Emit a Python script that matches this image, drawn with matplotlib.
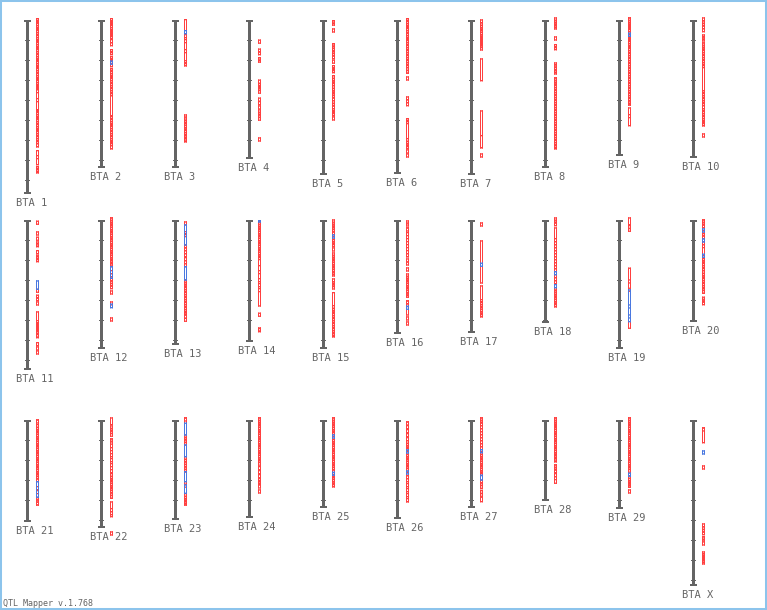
import matplotlib
matplotlib.use("Agg")
import numpy as np
import matplotlib.pyplot as plt
from matplotlib.patches import Rectangle

# Chromosomes and their map lengths (cM)
chrom_names = ["1", "2", "3", "4", "5", "6", "7", "8", "9", "10",
               "11", "12", "13", "14", "15", "16", "17", "18", "19", "20",
               "21", "22", "23", "24", "25", "26", "27", "28", "29", "X"]
chrom_len = [174, 148, 148, 139, 155, 154, 155, 148, 136, 138,
             150, 129, 125, 122, 129, 114, 113, 103, 129, 102,
             102, 108, 100, 98, 88, 99, 88, 81, 89, 166]

# Single-position QTL (drawn as small boxes), red trait class
red_points = [
    [-2, 0, 2, 5, 7, 9, 12, 14, 17, 19, 21, 24, 26, 28, 31, 33, 36, 38, 40, 43, 45, 47, 50, 52, 55, 57, 59,
     62, 64, 66, 69, 78, 89, 91, 94, 96, 98, 101, 103, 106, 108, 110, 113, 115, 118, 120, 123, 135, 146, 148, 149],
    [-2, 0, 2, 4, 7, 9, 11, 13, 15, 19, 22, 29, 31, 36, 38, 40, 43, 48, 50, 53, 55, 57, 60, 62, 65, 67, 70, 72,
     96, 98, 101, 103, 105, 108, 110, 113, 115, 118, 120, 122, 125],
    [14, 19, 29, 40, 42, 94.3, 96.3, 100, 102, 104.5, 107, 109, 112, 114, 116.5, 118],
    [19.5, 28.5, 31, 37, 38.5, 59.5, 63, 65, 67, 69.5, 77.5, 81, 85.3, 89.3, 91.5, 94, 96.5, 117.3],
    [0, 1.5, 8.3, 23, 24.5, 28, 30, 32.5, 35, 39.5, 45, 47, 49, 55, 57.5, 60, 62, 65, 67.5, 70, 72, 74.5, 77,
     80, 82.5, 85, 88, 90, 92, 96.3],
    [-2, 0, 3, 5, 7, 10, 12, 15, 17, 19, 22, 24, 27, 29, 32, 34, 37, 39, 42, 44, 47, 49.5, 56.3, 76.3, 79, 82,
     98, 100, 118, 120.5, 123, 125, 129.3, 133.3],
    [-0.7, 2, 4.5, 7, 9, 11.5, 14, 16, 18, 20, 22, 24, 26.3, 133.3],
    [-2.7, -0.5, 2, 4, 5.3, 16.3, 24, 26, 42.3, 44, 46.5, 49, 50.3, 57.3, 59.5, 62, 64, 67, 69, 72, 74, 77, 79,
     82, 84, 87, 89, 92, 94, 97, 99, 102, 104, 107, 109, 112, 114, 117, 119, 122, 124, 125],
    [-2.7, -0.5, 2, 4, 6, 8, 11, 14, 16, 18, 20, 23, 25, 27, 30, 32, 35, 37, 40, 42, 45, 47, 50, 52, 55, 57, 60,
     62, 65, 67, 70, 72, 75, 77, 80, 81.3, 94],
    [-2.7, 0, 2.5, 5, 8, 14.3, 16, 17.3, 22.3, 24.5, 27, 29, 32, 34, 37, 39, 42, 44, 70, 72, 75, 77, 80, 82,
     85, 88, 90, 93, 95, 98, 100, 102, 113.3],
    [0.6, 11.3, 16.6, 21.3, 23, 30, 34.6, 36, 38, 68.6, 74.6, 77, 81.3, 100, 102, 104, 106, 108, 110, 113.3,
     114, 122, 126.3, 130.3],
    [-2.7, -0.5, 2, 4, 6.5, 9, 11, 13.5, 16, 18, 20.5, 23, 25, 27.5, 30, 32, 34.5, 37, 39, 41.5, 43, 50, 53,
     57.6, 60, 62.6, 65, 70.3, 81.3, 97.3],
    [1.3, 11, 13, 24.3, 27, 30, 33, 37, 40, 43, 59.3, 61.5, 64, 66, 69, 71, 74, 76, 79, 81, 84, 86, 89, 91,
     94.6, 97.6],
    [1.3, 3.5, 6, 8, 10.5, 13, 15, 17.5, 20, 22, 24.5, 27, 29, 31.5, 34, 36, 50, 58, 63, 68, 92.6, 107.3, 108],
    [-0.7, 1.5, 4, 6, 8.5, 11, 16, 18.5, 21, 23, 27.3, 32.3, 34.5, 37, 39, 41.5, 44, 46, 48.5, 51, 52.3, 58.3,
     61, 63, 65.3, 85, 87.5, 90, 92, 95, 97, 100, 102, 105, 107, 110, 112, 113],
    [0.3, 2.3, 7.3, 12, 18, 24, 30, 33, 38.3, 41.3, 47.3, 53.3, 55.5, 58, 60, 62.5, 65, 67, 69.5, 72, 73.6,
     80.3, 83, 96.3, 101.3],
    [2.3, 79, 81, 84, 86, 88.5, 91, 93],
    [-2.7, -0.5, 2, 18, 21, 24, 27, 30, 33, 36, 39, 42, 45, 48, 54, 57, 60, 67, 69.3, 71.5, 74, 76, 78.5, 81, 83],
    [5, 7.6, 59.3, 67.6],
    [-0.7, 1.5, 4, 10, 12.5, 15, 21, 24, 35, 37.5, 40, 42, 45, 47, 50, 52.5, 55, 57, 60, 62, 65, 67, 69.6,
     76.6, 78.6, 81],
    [-0.7, 4, 6.5, 9, 11, 13.5, 16, 18, 20.5, 23, 25, 27.5, 30, 32, 34.5, 37, 39, 41.5, 44, 46, 48.5, 51, 53,
     55.5, 58, 66, 70, 76.6, 78.6, 81.3],
    [5.3, 7.6, 10, 12.6, 18.3, 20.5, 27, 33, 38, 43, 49, 53, 55.5, 58, 60, 62.5, 65, 67, 69.5, 72, 74.6,
     88, 91, 111.3],
    [-2.7, 14.3, 16.5, 19, 21.5, 36, 38.5, 41, 43.5, 46, 48.5, 61, 63.5, 73, 75.5, 78, 80, 81.3],
    [-2.7, -0.5, 2, 4, 6.5, 9, 11, 13.5, 16, 18, 20.5, 23, 25, 27.5, 30, 32, 34.5, 37, 39, 41.5, 46, 50, 54,
     58, 60, 61, 64.3, 69.3],
    [-2.7, -0.5, 2, 4, 6.5, 9, 11, 16, 18.5, 21, 23, 25.5, 28, 30, 32.5, 35, 37, 39.5, 42, 44, 46.5, 49, 54,
     56, 58.5, 61, 63],
    [1.3, 5, 9, 13, 17, 20, 22.5, 25, 27, 31, 33.5, 36, 38, 40.5, 43, 45, 47.5, 52, 55, 58, 63, 68, 73, 78],
    [-2.7, -0.5, 2, 5, 8, 11, 14, 17, 20, 23, 26, 31, 33.5, 36, 38, 40.5, 43, 45, 47.5, 50, 52, 59.5, 62,
     64.6, 70, 72.6],
    [-2.7, -0.5, 2, 4, 6, 8.5, 11, 13, 15.5, 18, 20, 22.5, 25, 27, 29.5, 32, 34, 36.5, 38, 44.3, 46.5, 49,
     53, 56],
    [-2.7, -0.5, 2, 4, 6.5, 9, 11, 13.5, 16, 18, 20.5, 23, 25, 27.5, 30, 32, 34.5, 37, 39, 41.5, 44, 46, 48.5,
     55, 57.5, 60, 62, 63.6, 69.3],
    [7.3, 45.3, 103.3, 106, 108.6, 111, 116, 117.3, 121.3, 131.3, 133, 135, 137, 139, 140.3],
]

# QTL with a confidence interval (start, end), red trait class
red_spans = [
    [(-2, 126), (68, 90), (130, 144), (146, 152)],
    [(48, 128), (75, 95)],
    [(-1, 45), (100, 121)],
    [],
    [(55, 95)],
    [(-2, 52.5), (98, 128)],
    [(38.3, 60), (90.3, 127), (115, 127)],
    [(57.3, 128)],
    [(-2.7, 84.3), (87.3, 105)],
    [(22.3, 105), (44, 70)],
    [(91.3, 112.6)],
    [(-2.7, 46)],
    [(24.3, 46), (59.3, 93.3)],
    [(1.3, 85.3), (36, 45)],
    [(72, 116)],
    [(7.3, 36), (80.3, 94.3)],
    [(20.3, 62.3), (65.3, 96)],
    [(7.3, 86)],
    [(-2.7, 4), (47.6, 107.6)],
    [(-0.7, 72.6)],
    [(-0.7, 84.3)],
    [(-2.7, 4), (18.3, 77.6), (81.3, 96)],
    [(-2.7, 84.3)],
    [(-2.7, 62.6)],
    [(-2.7, 66)],
    [(1.3, 81)],
    [(-2.7, 68), (76.6, 81)],
    [(-2.7, 41), (44.3, 62.6)],
    [(-2.7, 66.6)],
    [(7.3, 22)],
]

# Blue trait class
blue_points = [
    [], [40.5], [10], [], [], [], [], [], [12.6], [],
    [], [], [], [], [14.3], [85.6], [42.6], [51, 64], [84.3, 94.3], [8.3, 18.3, 33.6],
    [], [], [], [], [14.3, 51.6], [29.3, 50.3], [29], [], [52.6], [30.3],
]
blue_spans = [
    [], [], [], [], [], [], [], [], [], [],
    [(60.3, 68.6)], [(46, 57.6), (83.5, 87)], [(4.3, 24.3), (46, 59.3)], [(0, 1.3)], [], [], [], [],
    [(69.3, 101)], [],
    [(61, 76.6)], [], [(2.6, 14.3), (24.3, 36), (51, 61), (64.3, 72.6)], [], [], [], [(54.6, 59.3)], [], [], [],
]

W, H = 767, 610
first_x = 27.5
col_step = 74
row_top = [20, 220, 420]
per_row = 10
box_h = 3
edge = 1.3

grey = "#646464"
red = "#ff4040"
blue = "#4a78e0"
border = "#8cc4ec"


def block(ax, x0, x1, y0, y1, color):
    # plain filled block; snapping off so edges stay on the pixel grid
    ax.add_patch(Rectangle((x0, y0), x1 - x0, y1 - y0, fc=color, lw=0, snap=False))


def add_box(ax, a, b, color):
    # hollow 3 px wide box from a to b
    block(ax, 8.5, 11.5, a, a + edge, color)
    block(ax, 8.5, 11.5, b, b + edge, color)
    block(ax, 8.5, 9.5, a, b + edge, color)
    block(ax, 10.5, 11.5, a, b + edge, color)


fig = plt.figure(figsize=(W / 100, H / 100), dpi=100)

for i, name in enumerate(chrom_names):
    r, c = divmod(i, per_row)
    bx = first_x + c * col_step
    top = row_top[r]
    ax = fig.add_axes([(bx - 15) / W, 1 - (top + 190) / H, 60 / W, 200 / H])
    ax.set_xlim(-15, 45)
    ax.set_ylim(190, -10)
    ax.axis("off")

    L = chrom_len[i]
    block(ax, -1.5, 1.5, 0, L, grey)
    for t in np.arange(20, L - 2, 20):
        block(ax, -2.5, 2.5, t, t + 1, grey)
    block(ax, -3.5, 3.5, 0, 2, grey)
    block(ax, -3.5, 3.5, L - 2, L, grey)

    for a, b in red_spans[i]:
        add_box(ax, a, b, red)
    for p in red_points[i]:
        add_box(ax, p, p + box_h, red)
    for a, b in blue_spans[i]:
        add_box(ax, a, b, blue)
    for p in blue_points[i]:
        add_box(ax, p, p + box_h, blue)

    ax.text(-11.5, L + 9, "BTA " + name, ha="left", va="center", family="DejaVu Sans Mono",
            fontsize=7.5, color=grey, clip_on=False)

fig.text(3 / W, 1 - 604 / H, "QTL Mapper v.1.768", ha="left", va="center",
         family="DejaVu Sans Mono", fontsize=6, color=grey)

fig.patches.append(Rectangle((0, 0), 1, 1, transform=fig.transFigure, fill=False,
                             ec=border, lw=2.9))

fig.savefig("out.png", dpi=100)
